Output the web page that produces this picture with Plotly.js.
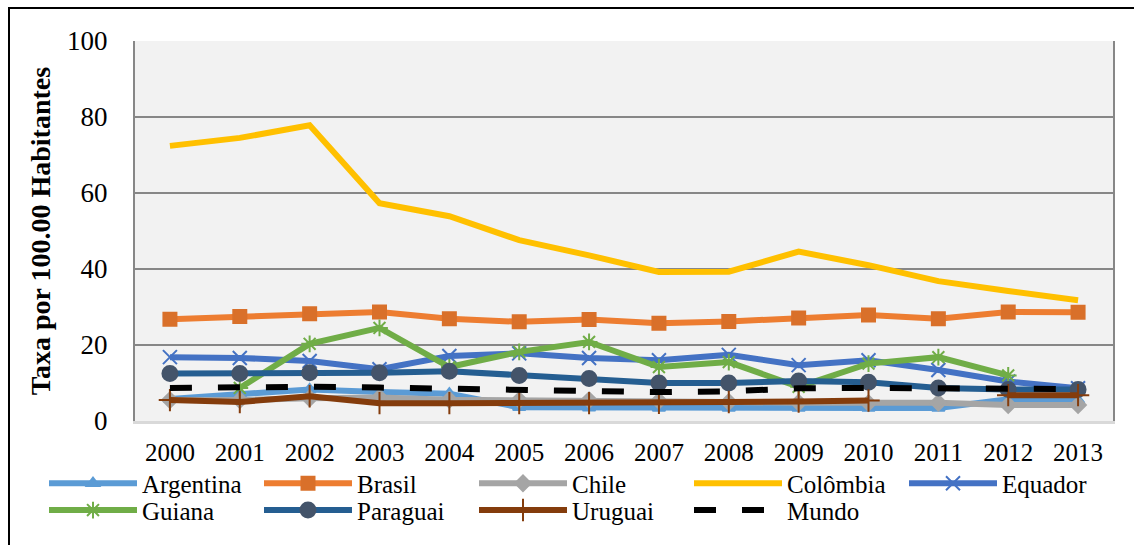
<!DOCTYPE html>
<html>
<head>
<meta charset="utf-8">
<script src="https://cdn.plot.ly/plotly-3.0.1.min.js"></script>
<style>
html,body{margin:0;padding:0;background:#fff;}
#wrap{position:relative;width:1134px;height:545px;}
#chart{width:1134px;height:545px;}
#frame{position:absolute;left:8px;top:7px;right:0;bottom:0;border-left:2px solid #000;border-top:2px solid #000;pointer-events:none;}
</style>
</head>
<body>
<div id="wrap"><div id="chart"></div><div id="frame"></div></div>
<script>
const years = ['2000','2001','2002','2003','2004','2005','2006','2007','2008','2009','2010','2011','2012','2013'];
const argentina = [5.8, 7.0, 8.3, 7.6, 7.2, 3.6, 3.5, 3.4, 3.4, 3.4, 3.4, 3.4, 5.7, 5.5];
const brasil    = [26.8, 27.5, 28.2, 28.7, 26.9, 26.1, 26.7, 25.7, 26.2, 27.1, 27.9, 26.9, 28.7, 28.6];
const chile     = [5.5, 5.5, 6.0, 6.2, 5.6, 5.5, 5.5, 5.3, 5.0, 4.8, 4.7, 4.8, 4.2, 4.2];
const colombia  = [72.4, 74.5, 77.8, 57.3, 53.9, 47.6, 43.6, 39.2, 39.3, 44.6, 41.0, 36.8, 34.2, 31.8];
const equador   = [16.8, 16.6, 15.8, 13.6, 17.1, 17.8, 16.6, 16.0, 17.4, 14.7, 16.0, 13.4, 10.4, 8.6];
const guiana    = [null, 8.7, 20.3, 24.5, 14.2, 18.2, 20.8, 14.2, 15.5, 9.0, 15.1, 16.8, 12.0, null];
const paraguai  = [12.5, 12.5, 12.7, 12.7, 13.1, 12.0, 11.2, 10.0, 10.0, 10.5, 10.2, 8.7, 8.3, 8.3];
const uruguai   = [5.5, 5.0, 6.5, 4.7, 4.7, 4.7, 4.7, 4.8, 5.0, 5.1, 5.4, null, 6.8, 6.8];
const mundo     = [8.7, 8.9, 9.0, 8.8, 8.5, 8.0, 7.9, 7.6, 7.8, 8.6, 8.7, 8.6, 8.5, 8.4];

const serif = 'Liberation Serif, Times New Roman, serif';
function tr(name, y, lineColor, sym, mColor, mSize, leg) {
  const t = {
    type: 'scatter', mode: sym ? 'lines+markers' : 'lines', name: name,
    x: years, y: y, legend: leg,
    line: {color: lineColor, width: 6},
    connectgaps: false
  };
  if (sym) t.marker = {symbol: sym, color: mColor, size: mSize, line: {color: mColor, width: 2}};
  return t;
}
const data = [
  tr('Argentina', argentina, '#5B9BD5', 'triangle-up', '#5B9BD5', 11, 'legend'),
  tr('Brasil', brasil, '#ED7D31', 'square', '#D9702A', 13, 'legend'),
  tr('Chile', chile, '#A5A5A5', 'diamond', '#A5A5A5', 12, 'legend'),
  tr('Colômbia', colombia, '#FFC000', null, null, 0, 'legend'),
  tr('Equador', equador, '#4472C4', 'x-thin-open', '#4472C4', 14, 'legend'),
  tr('Guiana', guiana, '#70AD47', 'asterisk-open', '#70AD47', 14, 'legend2'),
  tr('Paraguai', paraguai, '#255E91', 'circle', '#44546A', 15, 'legend2'),
  tr('Uruguai', uruguai, '#843C0C', 'cross-thin-open', '#843C0C', 16, 'legend2'),
  {type: 'scatter', mode: 'lines', name: 'Mundo', x: years, y: mundo, legend: 'legend2',
   line: {color: '#000000', width: 6, dash: '22px,26px'}}
];
const M = {l: 135, r: 21, t: 41, b: 121};
const W = 1134, H = 545;
const PW = W - M.l - M.r, PH = H - M.t - M.b;
function leg(xpx, yc) {
  return {
    orientation: 'h', xref: 'paper', yref: 'paper',
    x: (xpx - M.l) / PW, y: (H - M.b - yc) / PH, xanchor: 'left', yanchor: 'middle',
    entrywidth: 112, entrywidthmode: 'pixels', itemwidth: 88,
    font: {family: serif, size: 25, color: '#000'},
    bgcolor: 'rgba(0,0,0,0)', borderwidth: 0
  };
}
const layout = {
  width: W, height: H,
  margin: M,
  paper_bgcolor: '#ffffff', plot_bgcolor: '#F2F2F2',
  font: {family: serif, color: '#000', size: 20},
  showlegend: true,
  legend: leg(44, 487),
  legend2: leg(44, 514),
  xaxis: {
    type: 'category', range: [-0.5, 13.5],
    showgrid: false, zeroline: false,
    showline: true, linecolor: '#D9D9D9', linewidth: 3,
    ticks: '', ticklabelstandoff: 7,
    tickfont: {family: serif, size: 25, color: '#000'}
  },
  yaxis: {
    range: [0, 100], dtick: 20, tick0: 0,
    showgrid: true, gridcolor: '#878787', gridwidth: 2,
    zeroline: false,
    showline: true, mirror: true, linecolor: '#878787', linewidth: 2,
    ticks: '', ticklabelstandoff: 20,
    tickfont: {family: serif, size: 27, color: '#000'},
    title: {text: 'Taxa por 100.00 Habitantes', standoff: 8,
            font: {family: serif, size: 28, color: '#000', weight: 'bold'}}
  }
};
Plotly.newPlot('chart', data, layout, {displayModeBar: false, staticPlot: true});
</script>
</body>
</html>
